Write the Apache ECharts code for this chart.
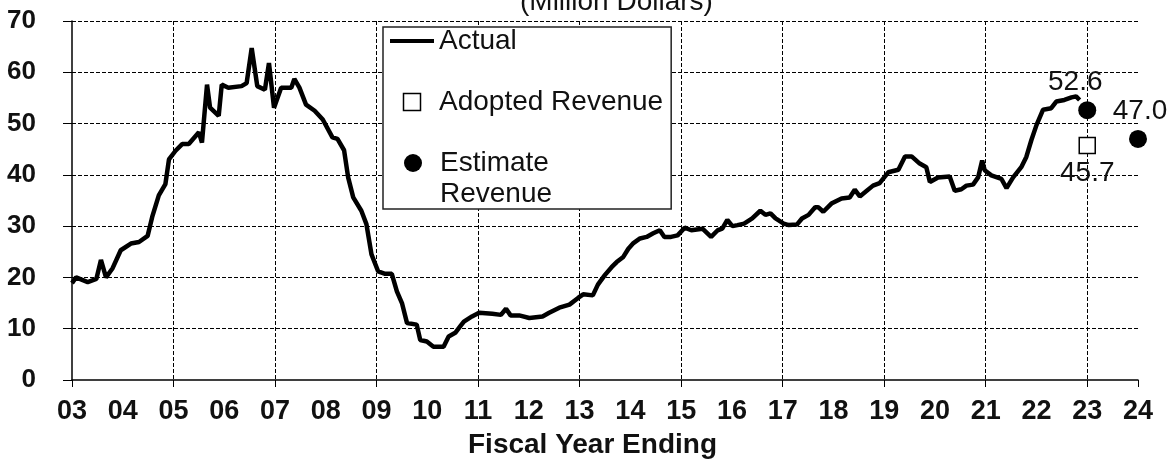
<!DOCTYPE html>
<html>
<head>
<meta charset="utf-8">
<title>Revenue</title>
<script src="https://cdn.jsdelivr.net/npm/echarts@6.0.0/dist/echarts.min.js"></script>
<style>
  html, body { margin: 0; padding: 0; background: #fff; }
  #chart { width: 1175px; height: 460px; }
</style>
</head>
<body>
<div id="chart"></div>
<script>
// monthly actual revenue (x = fiscal year ending, 03 = 2003)
var actualYears = [
  3.00, 3.08, 3.31, 3.48, 3.57, 3.67, 3.80, 3.96, 4.16, 4.32, 4.49, 4.58, 4.71, 4.84, 4.91,
  5.04, 5.17, 5.30, 5.50, 5.56, 5.66, 5.72, 5.89, 5.95, 6.08, 6.34, 6.44, 6.54, 6.65, 6.80,
  6.88, 6.98, 7.12, 7.32, 7.38, 7.48, 7.61, 7.78, 7.94, 8.13, 8.23, 8.36, 8.44, 8.54, 8.70,
  8.80, 8.90, 9.03, 9.17, 9.30, 9.40, 9.50, 9.60, 9.79, 9.86, 9.99, 10.12, 10.32, 10.42, 10.55,
  10.65, 10.72, 10.88, 11.02, 11.28, 11.45, 11.55, 11.64, 11.81, 12.01, 12.27, 12.40, 12.60, 12.80, 12.97,
  13.07, 13.26, 13.36, 13.50, 13.63, 13.73, 13.86, 13.96, 14.06, 14.19, 14.32, 14.45, 14.58, 14.67, 14.80,
  14.93, 15.07, 15.20, 15.42, 15.59, 15.72, 15.81, 15.91, 16.01, 16.11, 16.24, 16.40, 16.56, 16.66, 16.76,
  16.86, 17.02, 17.12, 17.28, 17.38, 17.51, 17.64, 17.70, 17.80, 17.96, 18.16, 18.32, 18.42, 18.52, 18.62,
  18.78, 18.91, 19.08, 19.28, 19.41, 19.54, 19.70, 19.83, 19.90, 20.06, 20.29, 20.39, 20.52, 20.62, 20.75,
  20.85, 20.93, 20.98, 21.11, 21.31, 21.41, 21.54, 21.70, 21.80, 21.90, 22.00, 22.13, 22.29, 22.39, 22.55,
  22.69, 22.78, 22.85
];
var actualValues = [
  18.9, 20.0, 19.1, 19.7, 23.4, 20.0, 21.8, 25.3, 26.6, 26.9, 28.1, 31.8, 36.0, 38.2, 43.0,
  44.7, 46.0, 46.0, 48.3, 46.3, 57.6, 53.1, 51.5, 57.6, 57.0, 57.3, 57.9, 64.7, 57.3, 56.6,
  61.8, 53.1, 57.0, 57.0, 58.7, 57.0, 53.7, 52.5, 50.8, 47.3, 47.0, 44.8, 39.5, 35.6, 33.0,
  30.4, 24.5, 21.2, 20.7, 20.7, 17.3, 15.0, 11.1, 10.8, 7.8, 7.5, 6.5, 6.5, 8.5, 9.2,
  10.5, 11.4, 12.4, 13.1, 12.9, 12.7, 13.9, 12.6, 12.6, 12.1, 12.4, 13.1, 14.1, 14.7, 16.0,
  16.7, 16.5, 18.6, 20.5, 22.0, 23.0, 24.0, 25.6, 26.7, 27.6, 27.9, 28.6, 29.2, 27.9, 27.9,
  28.2, 29.7, 29.2, 29.5, 27.9, 29.2, 29.5, 31.2, 30.0, 30.2, 30.5, 31.5, 33.0, 32.2, 32.5,
  31.5, 30.5, 30.2, 30.3, 31.5, 32.2, 33.7, 33.7, 32.8, 34.4, 35.4, 35.6, 37.1, 35.8, 36.6,
  37.9, 38.4, 40.5, 41.0, 43.6, 43.6, 42.2, 41.5, 38.6, 39.5, 39.7, 36.9, 37.2, 37.9, 38.1,
  39.5, 42.8, 40.9, 39.9, 39.2, 37.4, 39.5, 41.5, 43.5, 46.8, 49.7, 52.7, 53.0, 54.3, 54.6,
  55.1, 55.3, 54.6
];

var adoptedYears = [23];
var adoptedValues = [45.7];

var estimateYears = [23, 24];
var estimateValues = [52.6, 47.0];
var estimateLabelShift = [[-12, 0], [2, 0]];

var FONT = 'Liberation Sans, Arial, sans-serif';

function pairs(xs, ys) {
  var out = [];
  for (var i = 0; i < xs.length; i++) {
    out.push([xs[i], ys[i]]);
  }
  return out;
}

function yearLabel(v) {
  return (v < 10 ? '0' : '') + v;
}

var chart = echarts.init(document.getElementById('chart'), null, { renderer: 'canvas' });

var option = {
  animation: false,
  backgroundColor: '#ffffff',
  textStyle: { fontFamily: FONT },
  title: [{
    text: '(Million Dollars)',
    left: 515,
    top: -17,
    textStyle: { fontSize: 28, fontWeight: 'normal', color: '#111', fontFamily: FONT }
  }, {
    text: 'Fiscal Year Ending',
    left: 463,
    top: 426,
    textStyle: { fontSize: 28, fontWeight: 'bold', color: '#111', fontFamily: FONT }
  }],
  legend: [{
    // box with Actual + Adopted; padding at the bottom leaves room for the third item
    orient: 'vertical',
    left: 383,
    top: 27,
    padding: [0, 8, 93, 7],
    itemGap: 33,
    itemWidth: 44,
    itemHeight: 17,
    selectedMode: false,
    backgroundColor: '#fff',
    borderColor: '#222',
    borderWidth: 1.5,
    textStyle: { fontSize: 28, lineHeight: 28, color: '#111', fontFamily: FONT },
    data: [
      { name: 'Actual', icon: 'path://M0,0L44,0L44,4L0,4Z', itemStyle: { color: '#000' } },
      { name: 'Adopted Revenue', icon: 'path://M0,0L10,0L10,10L0,10Z',
        itemStyle: { color: '#fff', borderColor: '#000', borderWidth: 1.5 } }
    ]
  }, {
    // leading empty line keeps the marker level with "Estimate"
    orient: 'vertical',
    left: 404,
    top: 116.5,
    z: 6,
    padding: 0,
    itemWidth: 44,
    itemHeight: 18,
    selectedMode: false,
    formatter: function () { return '\nEstimate\nRevenue'; },
    textStyle: { fontSize: 28, lineHeight: 31, color: '#111', fontFamily: FONT },
    data: [{ name: 'Estimate Revenue', icon: 'circle', itemStyle: { color: '#000', opacity: 1 } }]
  }],
  grid: { left: 72, right: 37, top: 21, bottom: 80 },
  xAxis: [{
    type: 'value',
    min: 3,
    max: 24,
    interval: 1,
    axisLine: { show: true, lineStyle: { color: '#000', width: 1.5 } },
    axisTick: { show: false },
    splitLine: { show: false },
    axisLabel: {
      margin: 18,
      fontSize: 27,
      fontWeight: 'bold',
      color: '#111',
      fontFamily: FONT,
      formatter: yearLabel
    }
  }, {
    // every-other-year gridlines and ticks
    type: 'value',
    min: 3,
    max: 24,
    interval: 2,
    position: 'bottom',
    axisLine: { show: false },
    axisLabel: { show: false },
    axisTick: { show: true, length: 7, lineStyle: { color: '#000', width: 1 } },
    splitLine: {
      show: true,
      showMinLine: false,
      showMaxLine: false,
      lineStyle: { color: '#000', width: 1, type: [4, 2] }
    }
  }],
  yAxis: {
    type: 'value',
    min: 0,
    max: 70,
    interval: 10,
    axisLine: { show: true, lineStyle: { color: '#000', width: 1.5 } },
    axisTick: { show: true, length: 9, lineStyle: { color: '#000', width: 1 } },
    axisLabel: {
      margin: 36,
      fontSize: 26,
      fontWeight: 'bold',
      color: '#111',
      fontFamily: FONT
    },
    splitLine: {
      show: true,
      showMinLine: false,
      lineStyle: { color: '#000', width: 1, type: [4, 2] }
    }
  },
  series: [{
    name: 'Actual',
    type: 'line',
    data: pairs(actualYears, actualValues),
    symbol: 'none',
    lineStyle: { color: '#000', width: 4.5 },
    itemStyle: { color: '#000' },
    z: 3
  }, {
    name: 'Adopted Revenue',
    type: 'scatter',
    data: pairs(adoptedYears, adoptedValues),
    symbol: 'rect',
    symbolSize: 16,
    itemStyle: { color: '#fff', borderColor: '#000', borderWidth: 1.5, opacity: 1 },
    label: {
      show: true,
      position: 'bottom',
      distance: 5,
      fontSize: 28,
      color: '#111',
      fontFamily: FONT,
      formatter: function (p) { return p.value[1].toFixed(1); }
    },
    z: 4
  }, {
    name: 'Estimate Revenue',
    type: 'scatter',
    data: pairs(estimateYears, estimateValues).map(function (d, i) {
      return { value: d, label: { offset: estimateLabelShift[i] } };
    }),
    symbol: 'circle',
    symbolSize: 18,
    itemStyle: { color: '#000', opacity: 1 },
    label: {
      show: true,
      position: 'top',
      distance: 5,
      fontSize: 28,
      color: '#111',
      fontFamily: FONT,
      formatter: function (p) { return p.value[1].toFixed(1); }
    },
    z: 4
  }]
};

chart.setOption(option);
</script>
</body>
</html>
